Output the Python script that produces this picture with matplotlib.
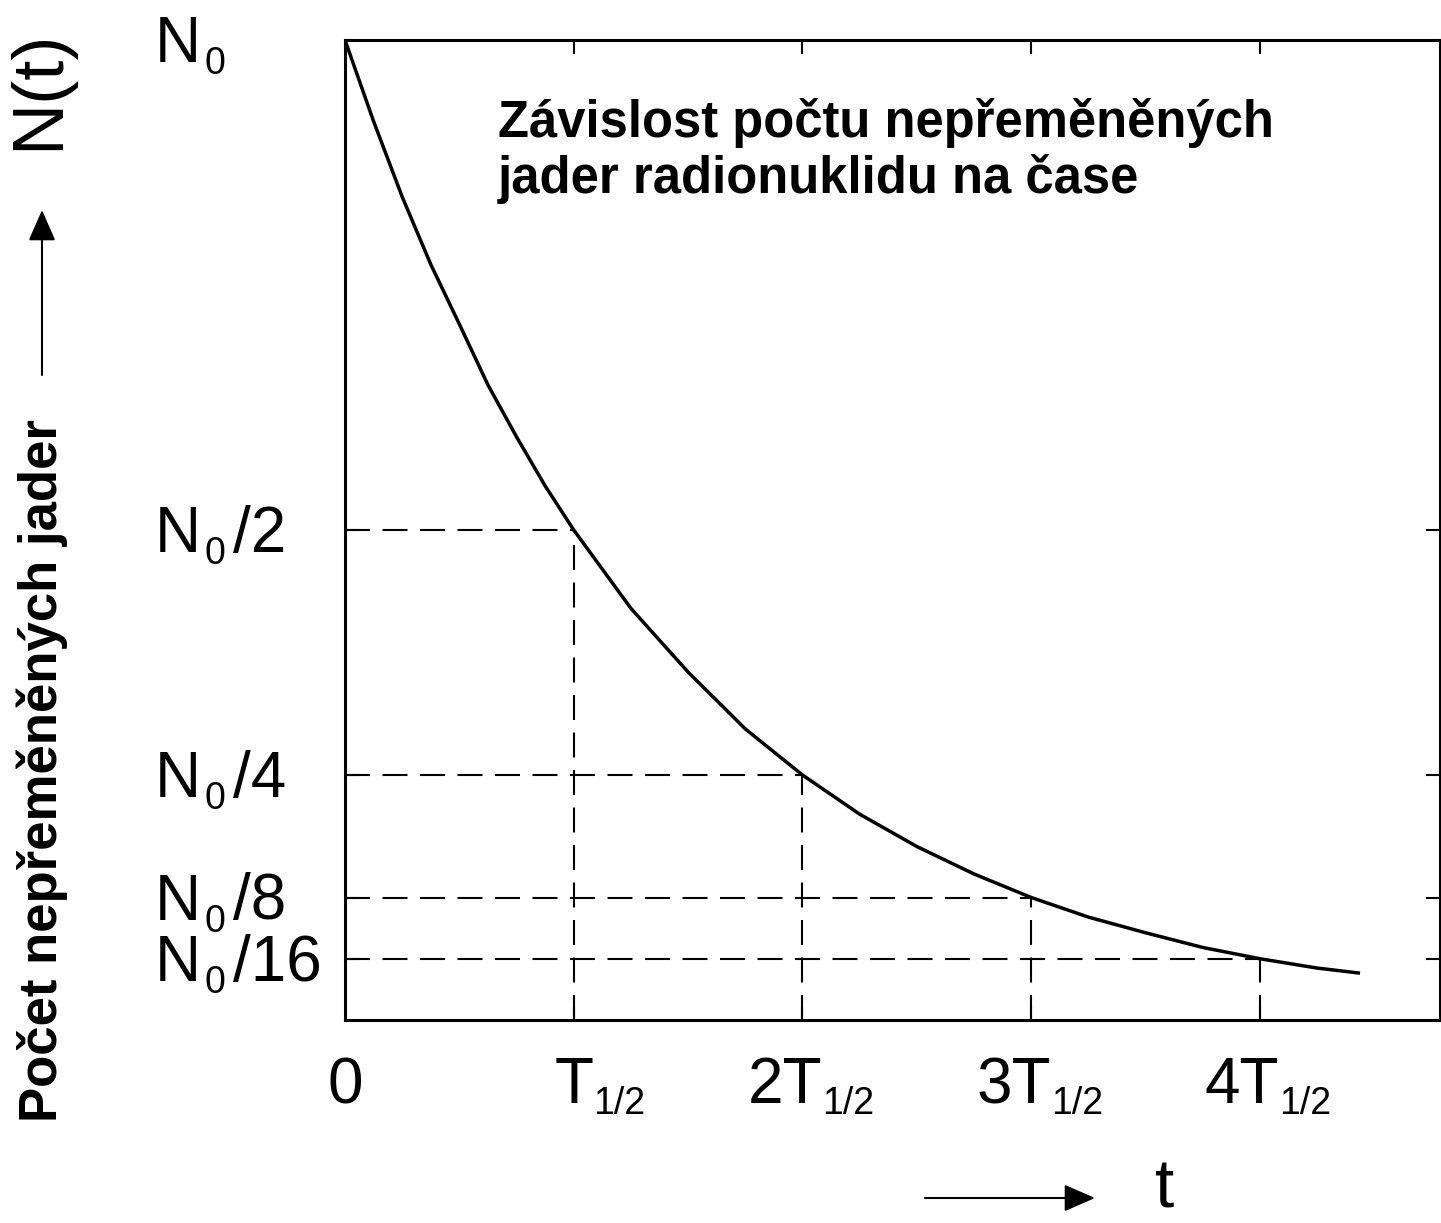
import matplotlib.pyplot as plt

plt.rcParams['font.family'] = ['Liberation Sans', 'DejaVu Sans']

# decay curve (t in half-lives, N in units of N0)
t_vals = [0, 0.125, 0.25, 0.375, 0.5, 0.625, 0.75, 0.875, 1.0, 1.25, 1.5,
          1.75, 2.0, 2.25, 2.5, 2.75, 3.0, 3.25, 3.5, 3.75, 4.0, 4.25, 4.43]
n_vals = [1.0, 0.917, 0.84, 0.771, 0.71, 0.648, 0.595, 0.545, 0.5, 0.42, 0.355,
          0.297, 0.25, 0.21, 0.177, 0.149, 0.125, 0.105, 0.089, 0.074, 0.0625,
          0.053, 0.048]

half_lives = [1, 2, 3, 4]
levels = [0.5, 0.25, 0.125, 0.0625]

# x labels: prefix before "T", subscript
x_prefix = ['', '2', '3', '4']
x_sub = '1/2'
# y labels: "N" + subscript "0" + suffix
y_ticks = [1, 0.5, 0.25, 0.125, 0.0625]
y_suffix = ['', '/2', '/4', '/8', '/16']

title_lines = ['Závislost počtu nepřeměněných', 'jader radionuklidu na čase']
ylabel = 'Počet nepřeměněných jader'

W, H = 1441, 1223
BIG, SUB = 46, 27
fig = plt.figure(figsize=(W / 100, H / 100), dpi=100)
ax = fig.add_axes([345 / W, 1 - 1020 / H, (1440 - 345) / W, (1020 - 40) / H])

ax.plot(t_vals, n_vals, color='black', lw=2.5, solid_joinstyle='round')
ax.hlines(levels, 0, half_lives, colors='black', lw=1.5, linestyles=(0, (12, 6)))
ax.vlines(half_lives, 0, levels, colors='black', lw=1.5, linestyles=(0, (12, 6)))

ax.set_xlim(0, 4.787)
ax.set_ylim(0, 1)
ax.set_xticks(half_lives)
ax.set_yticks(levels)
ax.tick_params(direction='in', length=10, width=1.5, top=True, right=True,
               labelbottom=False, labelleft=False)
for sp in ax.spines.values():
    sp.set_linewidth(2.2)

renderer = fig.canvas.get_renderer()


def put(x, y, s, size, ha='left'):
    # x, y in pixels from the top-left corner, y is the baseline
    t = fig.text(x / W, 1 - y / H, s, fontsize=size, ha=ha, va='baseline')
    return t.get_window_extent(renderer).width


def to_px(x, y):
    px, py = ax.transData.transform((x, y))
    return px, H - py


# x tick labels, the "T" centred on the tick
base_x = 1103
x0, _ = to_px(0, 0)
put(x0, base_x, '0', BIG, ha='center')
tw = fig.text(0, 0, 'T', fontsize=BIG)
t_width = tw.get_window_extent(renderer).width
tw.remove()
for k, pre in zip(half_lives, x_prefix):
    px, _ = to_px(k, 0)
    put(px + t_width / 2, base_x, pre + 'T', BIG, ha='right')
    put(px + t_width / 2, base_x + 11, x_sub, SUB)

# y tick labels, left aligned
for y, suf in zip(y_ticks, y_suffix):
    _, py = to_px(0, y)
    xx = 155
    xx += put(xx, py + 22, 'N', BIG) + 3
    xx += put(xx, py + 34, '0', SUB) + 8
    if suf:
        put(xx, py + 22, suf, BIG)

# title
fig.text(498 / W, 1 - 137 / H, title_lines[0], fontsize=36.5, fontweight='bold')
fig.text(498 / W, 1 - 193 / H, title_lines[1], fontsize=36.5, fontweight='bold')

# axis labels with arrows
fig.text(42 / W, 1 - 1122 / H, ylabel, rotation=90, ha='center', va='bottom',
         fontsize=38, fontweight='bold')
fig.text(40 / W, 1 - 150 / H, 'N(t)', rotation=90, ha='center', va='bottom', fontsize=52)
fig.text(1165 / W, 1 - 1221 / H, 't', ha='center', va='bottom', fontsize=50)

arrow = dict(arrowstyle='-|>,head_length=0.8,head_width=0.35', color='black',
             lw=1.5, mutation_scale=24, shrinkA=0, shrinkB=0)
ax.annotate('', xy=(42 / W, 1 - 210 / H), xytext=(42 / W, 1 - 375 / H),
            xycoords='figure fraction', arrowprops=arrow)
ax.annotate('', xy=(1095 / W, 1 - 1198 / H), xytext=(925 / W, 1 - 1198 / H),
            xycoords='figure fraction', arrowprops=arrow)

fig.savefig('out.png', dpi=100)
